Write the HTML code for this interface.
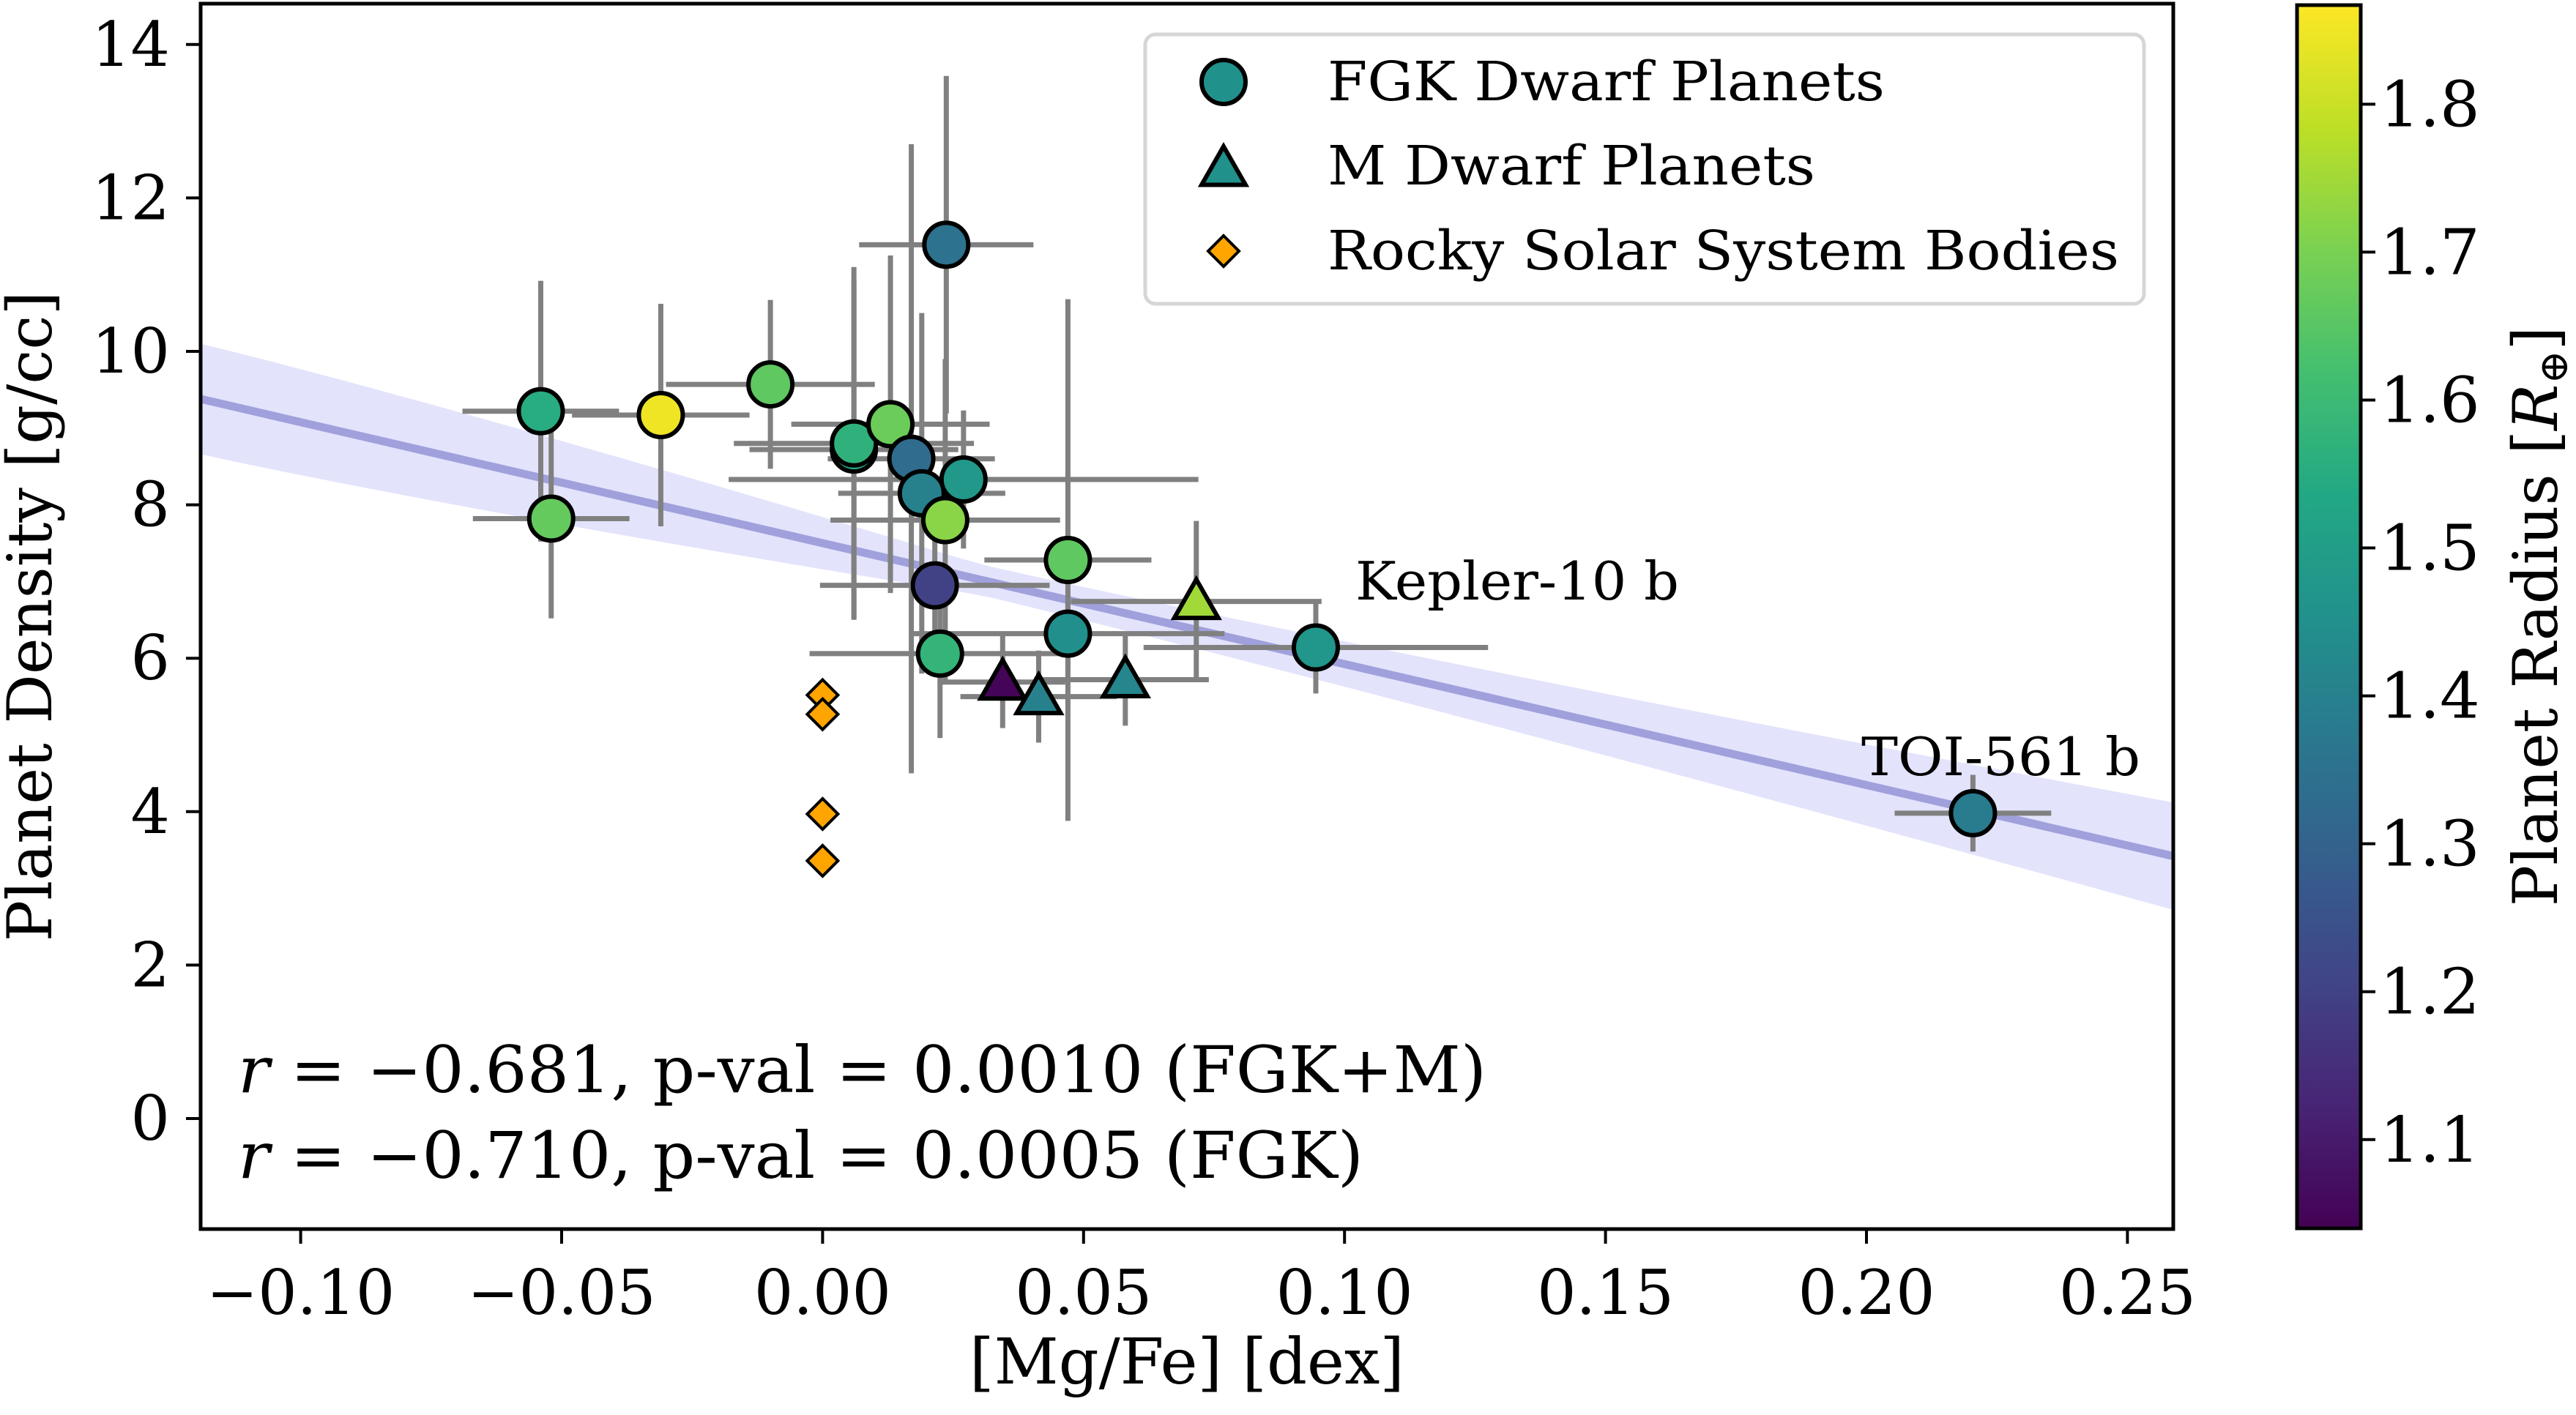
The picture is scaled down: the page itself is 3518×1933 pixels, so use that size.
<!DOCTYPE html>
<html><head><meta charset="utf-8"><style>
html,body{margin:0;padding:0;background:#fff;}
svg text{font-family:"DejaVu Serif","Liberation Serif",serif;}
</style></head><body>
<svg id="chart" width="3518" height="1928" viewBox="0 0 3518 1928" xmlns="http://www.w3.org/2000/svg">
<defs>
<linearGradient id="vir" x1="0" y1="1" x2="0" y2="0">
<stop offset="0" stop-color="#440154"/><stop offset="0.1" stop-color="#482475"/><stop offset="0.2" stop-color="#414487"/><stop offset="0.3" stop-color="#355f8d"/><stop offset="0.4" stop-color="#2a788e"/><stop offset="0.5" stop-color="#21918c"/><stop offset="0.6" stop-color="#22a884"/><stop offset="0.7" stop-color="#44bf70"/><stop offset="0.8" stop-color="#7ad151"/><stop offset="0.9" stop-color="#bddf26"/><stop offset="1" stop-color="#fde725"/>
</linearGradient>
<clipPath id="plotclip"><rect x="274" y="5" width="2694" height="1674"/></clipPath>
</defs>
<g id="plot" clip-path="url(#plotclip)"></g>
<g id="axes"></g>
</svg>
<script>
// FGK planets
const fgkX = [-0.054,-0.052,-0.031,-0.010,0.006,0.006,0.013,0.017,0.019,0.027,0.0237,0.0235,0.0215,0.0225,0.047,0.047,0.0945,0.2204];
const fgkY = [9.22,7.82,9.17,9.57,8.72,8.80,9.05,8.60,8.15,8.33,11.39,7.80,6.95,6.06,7.28,6.32,6.14,3.98];
const fgkXerr = [0.015,0.015,0.017,0.02,0.02,0.023,0.019,0.016,0.016,0.045,0.0167,0.022,0.022,0.025,0.016,0.03,0.033,0.015];
const fgkYerr = [1.7,1.3,1.45,1.1,2.2,2.3,2.2,4.1,2.35,0.9,2.2,2.1,1.1,1.1,3.4,0.5,0.6,0.5];
const fgkR = [1.55,1.67,1.85,1.66,1.52,1.57,1.68,1.33,1.40,1.48,1.35,1.72,1.20,1.58,1.66,1.45,1.47,1.38];
// M dwarf planets
const mX = [0.0345,0.0414,0.058,0.0716];
const mY = [5.69,5.50,5.72,6.74];
const mXerr = [0.012,0.015,0.016,0.024];
const mYerr = [0.6,0.6,0.6,1.05];
const mR = [1.05,1.40,1.42,1.75];
// Solar system bodies
const ssX = [0,0,0,0];
const ssY = [5.52,5.27,3.97,3.36];
// Fit
const fitX = [-0.1192,0.2588];
const fitY = [9.38,3.42];
const bandHalf = [0.72,0.2,0.7];
const xTicks = [-0.10,-0.05,0.00,0.05,0.10,0.15,0.20,0.25];
const xTickLabels = ["\u22120.10","\u22120.05","0.00","0.05","0.10","0.15","0.20","0.25"];
const yTicks = [0,2,4,6,8,10,12,14];
const cTicks = [1.1,1.2,1.3,1.4,1.5,1.6,1.7,1.8];

const L=274,R=2968,T=5,B=1679;
const X=v=>1123.4+v*7128;
const Y=v=>1528-v*104.8;
const cMin=1.04,cMax=1.867,cT=7,cB=1678,cL=3137,cW=87;
const CY=v=>cB-(v-cMin)/(cMax-cMin)*(cB-cT);
const stops=["#440154","#482475","#414487","#355f8d","#2a788e","#21918c","#22a884","#44bf70","#7ad151","#bddf26","#fde725"];
function hx(h){return [1,3,5].map(i=>parseInt(h.substr(i,2),16));}
function vir(v){let t=Math.max(0,Math.min(1,(v-cMin)/(cMax-cMin)))*10;let i=Math.min(9,Math.floor(t));let f=t-i;let a=hx(stops[i]),b=hx(stops[i+1]);return 'rgb('+a.map((c,k)=>Math.round(c+(b[k]-c)*f)).join(',')+')';}
const NS='http://www.w3.org/2000/svg';
function mk(tag,attrs,parent,txt){const e=document.createElementNS(NS,tag);for(const k in attrs)e.setAttribute(k,attrs[k]);if(txt!==undefined)e.textContent=txt;parent.appendChild(e);return e;}
const plot=document.getElementById('plot'),axes=document.getElementById('axes');

const a=(fitY[1]-fitY[0])/(fitX[1]-fitX[0]);
const fy=x=>fitY[0]+a*(x-fitX[0]);
const bx=[fitX[0],0.03,fitX[1]];
function hw(x){if(x<0.03)return bandHalf[0]+(bandHalf[1]-bandHalf[0])*((x-bx[0])/(bx[1]-bx[0]))**1.4;return bandHalf[1]+(bandHalf[2]-bandHalf[1])*((x-bx[1])/(bx[2]-bx[1]))**1.4;}
let up=[],dn=[];
for(let i=0;i<=60;i++){const x=fitX[0]+(fitX[1]-fitX[0])*i/60;up.push(X(x)+','+Y(fy(x)+hw(x)));dn.unshift(X(x)+','+Y(fy(x)-hw(x)));}
let band=mk('polygon',{points:up.concat(dn).join(' '),fill:'#e3e3fc',stroke:'none'},plot);


let fl=mk('line',{x1:X(fitX[0]),y1:Y(fitY[0]),x2:X(fitX[1]),y2:Y(fitY[1]),stroke:'#a0a0dc','stroke-width':11},plot);



function eb(x,y,xe,ye,name){const g=mk('g',{},plot);


mk('line',{x1:X(x-xe),x2:X(x+xe),y1:Y(y),y2:Y(y),stroke:'#808080','stroke-width':7},g);
mk('line',{x1:X(x),x2:X(x),y1:Y(y-ye),y2:Y(y+ye),stroke:'#808080','stroke-width':7},g);}
fgkX.forEach((x,i)=>eb(x,fgkY[i],fgkXerr[i],fgkYerr[i],'fgk-errorbar'));
mX.forEach((x,i)=>eb(x,mY[i],mXerr[i],mYerr[i],'m-dwarf-errorbar'));

fgkX.forEach((x,i)=>{const c=mk('circle',{cx:X(x),cy:Y(fgkY[i]),r:30,fill:vir(fgkR[i]),stroke:'#000','stroke-width':6},plot);

});
function tri(cx,cy,s){return [cx+','+(cy-s),(cx-s*1.0)+','+(cy+s*0.75),(cx+s*1.0)+','+(cy+s*0.75)].join(' ');}
mX.forEach((x,i)=>{const p=mk('polygon',{points:tri(X(x),Y(mY[i]),30),fill:vir(mR[i]),stroke:'#000','stroke-width':6,'stroke-linejoin':'miter'},plot);

});
function dia(cx,cy,s){return [cx+','+(cy-s),(cx+s)+','+cy,cx+','+(cy+s),(cx-s)+','+cy].join(' ');}
ssX.forEach((x,i)=>{const p=mk('polygon',{points:dia(X(x),Y(ssY[i]),21),fill:'#ffa500',stroke:'#000','stroke-width':4},plot);

});

let k=mk('text',{x:1851,y:819,'font-size':72,textLength:442,lengthAdjust:'spacingAndGlyphs'},plot,'Kepler-10 b');


let t=mk('text',{x:2542,y:1059,'font-size':72,textLength:381,lengthAdjust:'spacingAndGlyphs'},plot,'TOI-561 b');


const stats=[["\u22120.681","0.0010 (FGK+M)",1492,1705],["\u22120.710","0.0005 (FGK)",1609,1537]];
stats.forEach(s=>{const e=mk('text',{x:325,y:s[2],'font-size':88,textLength:s[3],lengthAdjust:'spacingAndGlyphs'},plot);


mk('tspan',{'font-style':'italic'},e,'r');mk('tspan',{},e,' = '+s[0]+', p-val = '+s[1]);});

const lg=mk('g',{},plot);


mk('rect',{x:1564,y:47,width:1364,height:368,rx:14,fill:'#fff','fill-opacity':0.8,stroke:'#d6d6d6','stroke-width':5},lg);
const lc=mk('circle',{cx:1671,cy:112,r:30,fill:'#21918c',stroke:'#000','stroke-width':6},lg);


const lt=mk('polygon',{points:tri(1671,230,30),fill:'#21918c',stroke:'#000','stroke-width':6},lg);


const ld=mk('polygon',{points:dia(1671,343,21),fill:'#ffa500',stroke:'#000','stroke-width':4},lg);


[["FGK Dwarf Planets",112,761],["M Dwarf Planets",227,666],["Rocky Solar System Bodies",343,1081]].forEach(r=>{const e=mk('text',{x:1813,y:r[1]+25,'font-size':74,textLength:r[2],lengthAdjust:'spacingAndGlyphs'},lg,r[0]);

});

const fr=mk('rect',{x:L,y:T,width:R-L,height:B-T,fill:'none',stroke:'#000','stroke-width':5},axes);


xTicks.forEach((v,i)=>{mk('line',{x1:X(v),x2:X(v),y1:B,y2:B+20,stroke:'#000','stroke-width':4},axes);
const e=mk('text',{x:X(v),y:1795,'font-size':84,'text-anchor':'middle'},axes,xTickLabels[i]);

});
yTicks.forEach(v=>{mk('line',{x1:L-20,x2:L,y1:Y(v),y2:Y(v),stroke:'#000','stroke-width':4},axes);
const e=mk('text',{x:232,y:Y(v)+29,'font-size':84,'text-anchor':'end'},axes,String(v));

});
let xl=mk('text',{x:1621,y:1890,'font-size':86,'text-anchor':'middle'},axes,'[Mg/Fe] [dex]');


let yl=mk('text',{x:0,y:0,'font-size':84,'text-anchor':'middle',transform:'translate(70,842) rotate(-90)'},axes,'Planet Density [g/cc]');



const cb=mk('rect',{x:cL,y:cT,width:cW,height:cB-cT,fill:'url(#vir)',stroke:'#000','stroke-width':5},axes);


cTicks.forEach(v=>{mk('line',{x1:cL+cW,x2:cL+cW+20,y1:CY(v),y2:CY(v),stroke:'#000','stroke-width':4},axes);
const e=mk('text',{x:3250,y:CY(v)+30,'font-size':86},axes,v.toFixed(1));

});
let cl=mk('text',{x:0,y:0,'font-size':84,'text-anchor':'middle',transform:'translate(3492,842) rotate(-90)'},axes);


mk('tspan',{},cl,'Planet Radius [');mk('tspan',{'font-style':'italic'},cl,'R');mk('tspan',{'font-size':55,dy:14},cl,'\u2295');mk('tspan',{dy:-14},cl,']');
</script>
</body></html>
